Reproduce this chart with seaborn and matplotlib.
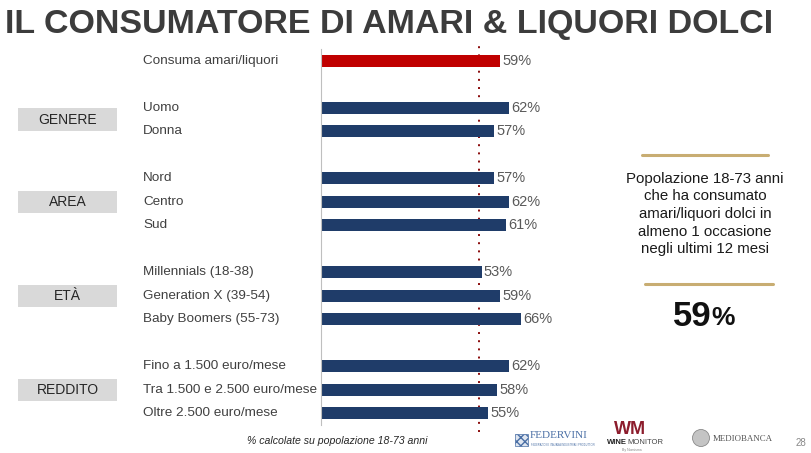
import pandas as pd
import seaborn as sns
import matplotlib.pyplot as plt
from matplotlib.patches import Rectangle, Ellipse
from matplotlib.lines import Line2D
from matplotlib.transforms import blended_transform_factory

# data
labels = ["Consuma amari/liquori",
          "Uomo", "Donna",
          "Nord", "Centro", "Sud",
          "Millennials (18-38)", "Generation X (39-54)", "Baby Boomers (55-73)",
          "Fino a 1.500 euro/mese", "Tra 1.500 e 2.500 euro/mese", "Oltre 2.500 euro/mese"]
values = [59, 62, 57, 57, 62, 61, 53, 59, 66, 62, 58, 55]
groups = ["", "GENERE", "GENERE", "AREA", "AREA", "AREA",
          "ETÀ", "ETÀ", "ETÀ", "REDDITO", "REDDITO", "REDDITO"]
kinds = ["totale"] + ["segmento"] * 11
reference_line = 52
title = "IL CONSUMATORE DI AMARI & LIQUORI DOLCI"
side_text = "Popolazione 18-73 anni\nche ha consumato\namari/liquori dolci in\nalmeno 1 occasione\nnegli ultimi 12 mesi"
footnote = "% calcolate su popolazione 18-73 anni"

# a blank row between groups
pos = []
p = -1
prev = None
for g in groups:
    p += 1 if g == prev else (2 if prev is not None else 1)
    pos.append(p)
    prev = g

df = pd.DataFrame({"etichetta": labels, "valore": values, "gruppo": groups,
                   "tipo": kinds, "pos": pos})

sns.set_theme(style="white")
plt.rcParams["font.family"] = ["Liberation Sans", "DejaVu Sans"]

W, H = 812, 453
fig = plt.figure(figsize=(W / 100, H / 100), dpi=100)
fig.patch.set_facecolor("white")

# bar axes: x=0 at 321.5px, ~3.03 px per %, rows from y=49 to 425 px
ax = fig.add_axes([321.5 / W, 1 - 425 / H, 90 * 3.03 / W, 376 / H])
sns.barplot(data=df, x="valore", y="pos", hue="tipo", orient="h", native_scale=True,
            palette={"totale": "#c00000", "segmento": "#1f3c69"}, width=0.5,
            dodge=False, legend=False, linewidth=0, saturation=1, ax=ax)
ax.set_xlim(0, 90)
ax.set_ylim(15.5, -0.5)
ax.set_xticks([])
ax.set_yticks([])
ax.set_xlabel("")
ax.set_ylabel("")
for s in ["top", "right", "bottom"]:
    ax.spines[s].set_visible(False)
ax.spines["left"].set_color("#bfbfbf")
ax.spines["left"].set_linewidth(0.8)
ax.set_facecolor("none")

ax.axvline(reference_line, ymin=-0.019, ymax=1.013, clip_on=False, color="#8a0a0a",
           lw=1.4, linestyle=(0, (1, 3.2)), zorder=0)

for _, r in df.iterrows():
    ax.text(r["valore"] + 0.6, r["pos"], f"{r['valore']}%", va="center", ha="left",
            fontsize=10.5, color="#595959")

# row labels on the left, figure x / data y
btr = blended_transform_factory(fig.transFigure, ax.transData)
for _, r in df.iterrows():
    ax.text(143 / W, r["pos"], r["etichetta"], transform=btr, fontsize=9.7,
            color="#404040", va="center", ha="left", clip_on=False)

# grey group boxes
for g, sub in df[df["gruppo"] != ""].groupby("gruppo", sort=False):
    yc = sub["pos"].mean()
    ax.add_patch(Rectangle((18 / W, yc - 0.47), 99 / W, 0.94, transform=btr,
                           facecolor="#d9d9d9", edgecolor="none", clip_on=False))
    ax.text(67.5 / W, yc, g, transform=btr, fontsize=10, color="#262626",
            ha="center", va="center", clip_on=False)

# title, fitted to the slide width
t = fig.text(5 / W, 1 - 24 / H, title, fontsize=24, fontweight="bold",
             color="#3c3c3c", ha="left", va="center")
fig.canvas.draw()
w = t.get_window_extent().width
t.set_fontsize(24 * 770 / w)

# right panel
fig.add_artist(Line2D([642 / W, 768 / W], [1 - 155 / H] * 2, color="#c8ad72", lw=2.2))
fig.add_artist(Line2D([645 / W, 773 / W], [1 - 284 / H] * 2, color="#c8ad72", lw=2.2))
fig.text(705 / W, 1 - 214 / H, side_text, fontsize=10.8, color="#1a1a1a",
         ha="center", va="center", linespacing=1.33)
fig.text(712 / W, 1 - 316 / H, "59", fontsize=25, fontweight="bold", color="#111111",
         ha="right", va="center")
fig.text(711 / W, 1 - 318 / H, "%", fontsize=19, fontweight="bold", color="#111111",
         ha="left", va="center")

# footer
fig.text(337 / W, 1 - 441 / H, footnote, fontsize=7.6, style="italic",
         color="#262626", ha="center", va="center")
fig.add_artist(Rectangle((515 / W, 1 - 446 / H), 13 / W, 12 / H, facecolor="#dfe6f0",
                         edgecolor="#4a6fa5", hatch="xxxx", lw=0.5))
fig.text(530 / W, 1 - 436 / H, "FEDERVINI", fontsize=8, family="Liberation Serif",
         color="#4a6fa5", ha="left", va="center")
fig.text(531 / W, 1 - 445 / H, "FEDERAZIONE ITALIANA INDUSTRIALI PRODUTTORI",
         fontsize=1.8, color="#4a6fa5", ha="left", va="center")
fig.text(630 / W, 1 - 430 / H, "WM", fontsize=13, fontweight="bold", color="#8c1c2c",
         ha="center", va="center")
tw = fig.text(607 / W, 1 - 443 / H, "WINE", fontsize=5.5, fontweight="bold",
              color="#222222", ha="left", va="center")
fig.canvas.draw()
x_end = tw.get_window_extent().x1
fig.text(x_end / W, 1 - 443 / H, "MONITOR", fontsize=5.5, color="#444444",
         ha="left", va="center")
fig.text(632 / W, 1 - 450 / H, "By Nomisma", fontsize=2.5, color="#888888",
         ha="center", va="center")
fig.add_artist(Ellipse((701 / W, 1 - 438 / H), 17 / W, 17 / H, facecolor="#c4c4c4",
                       edgecolor="#8a8a8a", lw=0.6))
fig.text(713 / W, 1 - 439 / H, "MEDIOBANCA", fontsize=6.4, family="Liberation Serif",
         color="#555555", ha="left", va="center")
fig.text(801 / W, 1 - 443 / H, "28", fontsize=7, color="#888888",
         ha="center", va="center")

fig.savefig("out.png", dpi=100, facecolor="white")
